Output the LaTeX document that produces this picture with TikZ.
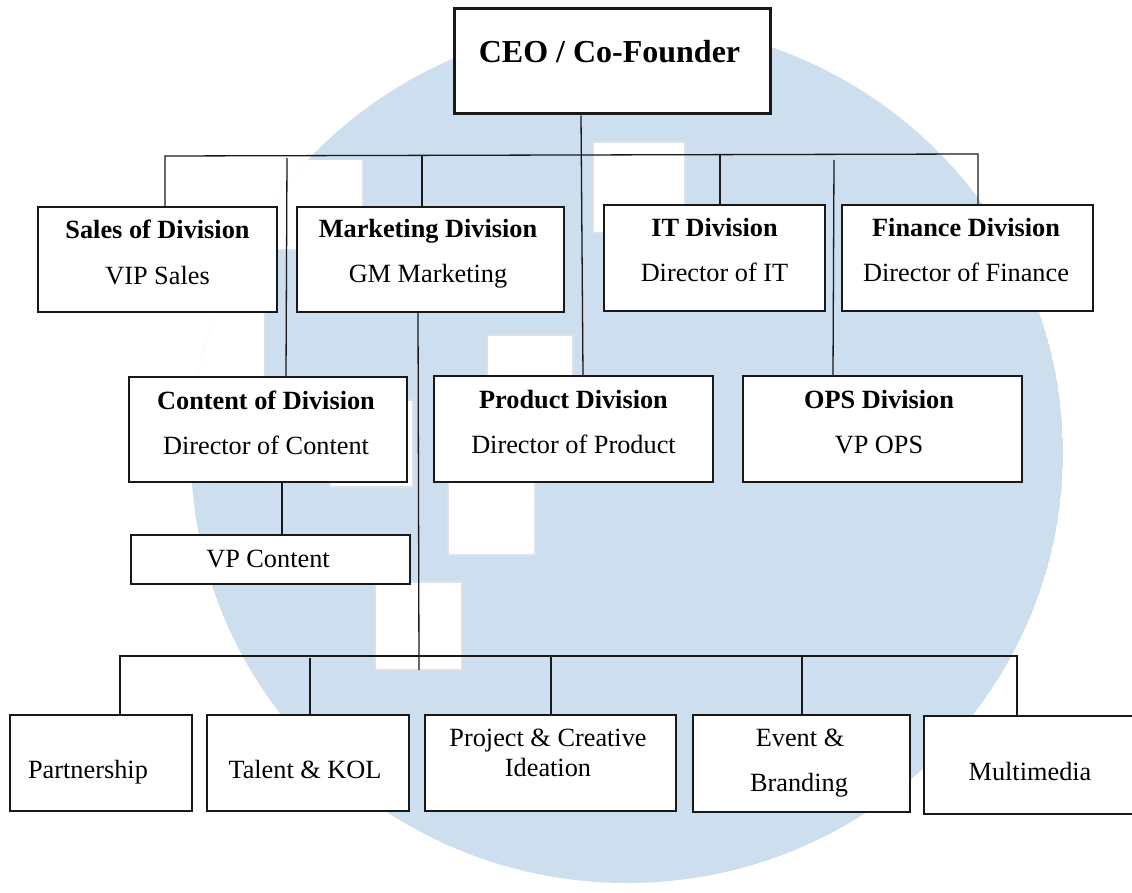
\documentclass[tikz,border=0pt]{standalone}
\usepackage{fontspec}
\setmainfont{Liberation Serif}
\definecolor{wm}{RGB}{205,222,239}
\definecolor{wmedge}{RGB}{222,226,232}
\begin{document}
\begin{tikzpicture}[x=1pt,y=-1pt,
  box/.style={draw=black!90, line width=1.3pt, fill=white, inner sep=0pt, rectangle},
  conn/.style={draw=black!90, line width=1.3pt},
  txt/.style={anchor=base, inner sep=0pt, font=\fontsize{26.3}{30}\selectfont},
  ttl/.style={anchor=base, inner sep=0pt, font=\fontsize{26.3}{30}\selectfont\bfseries},
  wsq/.style={fill=white, draw=wmedge, line width=2pt}]
\useasboundingbox (0,0) rectangle (1132,893);
% watermark
\begin{scope}
  \clip (627,453) ellipse[x radius=436pt, y radius=430pt];
  \fill[wm] (627,453) ellipse[x radius=436pt, y radius=430pt];
  \path[wsq] (593,142) rectangle (685,233);
  \path[fill=white] (150,160) rectangle (363,250);
  \path[fill=white] (150,250) rectangle (265,377);
  \draw[wmedge, line width=2pt] (363,160) -- (363,250) -- (265,250) -- (265,377);
  \path[wsq] (487,335) rectangle (573,400);
  \path[wsq] (448,440) rectangle (535,555);
  \path[wsq] (330,400) rectangle (413,487);
  \path[wsq] (375,582) rectangle (462,670);
\end{scope}
% named x-positions
\coordinate (busL) at (165,156);
\coordinate (busR) at (978,154);
\coordinate (mD) at (422,155);
\coordinate (iD) at (720,154);
\coordinate (cT) at (581,0);
\coordinate (cB) at (583,0);
\coordinate (kT) at (287,158);
\coordinate (kB) at (286,0);
\coordinate (oT) at (834,160);
\coordinate (oB) at (833,0);
\coordinate (vX) at (282,0);
\coordinate (mX) at (418,0);
\coordinate (mEnd) at (419,670);
\coordinate (bL) at (120,656);
\coordinate (bR) at (1017,656);
\coordinate (tT) at (310,658);
\coordinate (pT) at (551,656);
\coordinate (eT) at (802,656);
% boxes
\node[box, line width=3pt, minimum width=316pt, minimum height=105pt] (ceo) at (612,61.5) {};
\node[box, minimum width=239pt, minimum height=105pt] (sales) at (157.5,259.5) {};
\node[box, minimum width=267pt, minimum height=105pt] (mkt) at (430.5,259.5) {};
\node[box, minimum width=221pt, minimum height=106pt] (it) at (714.5,258) {};
\node[box, minimum width=251pt, minimum height=106pt] (fin) at (967.5,258) {};
\node[box, minimum width=278pt, minimum height=105pt] (cont) at (268,429.5) {};
\node[box, minimum width=279pt, minimum height=106pt] (prod) at (573.5,429) {};
\node[box, minimum width=279pt, minimum height=106pt] (ops) at (882.5,429) {};
\node[box, minimum width=279pt, minimum height=49pt] (vpc) at (270.5,559.5) {};
\node[box, minimum width=182pt, minimum height=96pt] (part) at (101,763) {};
\node[box, minimum width=202pt, minimum height=96pt] (tal) at (308,763) {};
\node[box, minimum width=251pt, minimum height=96pt] (proj) at (550.5,763) {};
\node[box, minimum width=217pt, minimum height=97pt] (evt) at (801.5,763.5) {};
\node[box, minimum width=226pt, minimum height=98pt] (mm) at (1037,765) {};
% connectors
\draw[conn] (ceo.south -| cT) -- (prod.north -| cB);
\draw[conn] (sales.north -| busL) -- (busL) -- (busR) -- (fin.north -| busR);
\draw[conn] (mD) -- (mkt.north -| mD);
\draw[conn] (iD) -- (it.north -| iD);
\draw[conn] (kT) -- (cont.north -| kB);
\draw[conn] (oT) -- (ops.north -| oB);
\draw[conn] (cont.south -| vX) -- (vpc.north -| vX);
\draw[conn] (mkt.south -| mX) -- (mEnd);
\draw[conn] (part.north -| bL) -- (bL) -- (bR) -- (mm.north -| bR);
\draw[conn] (tT) -- (tal.north -| tT);
\draw[conn] (pT) -- (proj.north -| pT);
\draw[conn] (eT) -- (evt.north -| eT);
% texts
\node[anchor=base, inner sep=0pt, font=\fontsize{32}{36}\selectfont\bfseries] (ceoT) at (609.5,63) {CEO / Co-Founder};
\node[ttl] (salesT) at (157.5,239) {Sales of Division};
\node[txt] (salesS) at (157.5,284) {VIP Sales};
\node[ttl] (mktT) at (428,238) {Marketing Division};
\node[txt] (mktS) at (428,283) {GM Marketing};
\node[ttl] (itT) at (714.5,237) {IT Division};
\node[txt] (itS) at (714.5,282) {Director of IT};
\node[ttl] (finT) at (966,237) {Finance Division};
\node[txt] (finS) at (966,282) {Director of Finance};
\node[ttl] (contT) at (266,409) {Content of Division};
\node[txt] (contS) at (266,454) {Director of Content};
\node[ttl] (prodT) at (573.5,408) {Product Division};
\node[txt] (prodS) at (573.5,453) {Director of Product};
\node[ttl] (opsT) at (879,408) {OPS Division};
\node[txt] (opsS) at (879,453) {VP OPS};
\node[txt] (vpcT) at (268,567) {VP Content};
\node[txt] (partT) at (88,778) {Partnership};
\node[txt] (talT) at (305,778) {Talent \& KOL};
\node[txt] (projT) at (548,746) {Project \& Creative};
\node[txt] (projS) at (548,776) {Ideation};
\node[txt] (evtT) at (800,746) {Event \&};
\node[txt] (evtS) at (799,791) {Branding};
\node[txt] (mmT) at (1030,780) {Multimedia};
\end{tikzpicture}
\end{document}
